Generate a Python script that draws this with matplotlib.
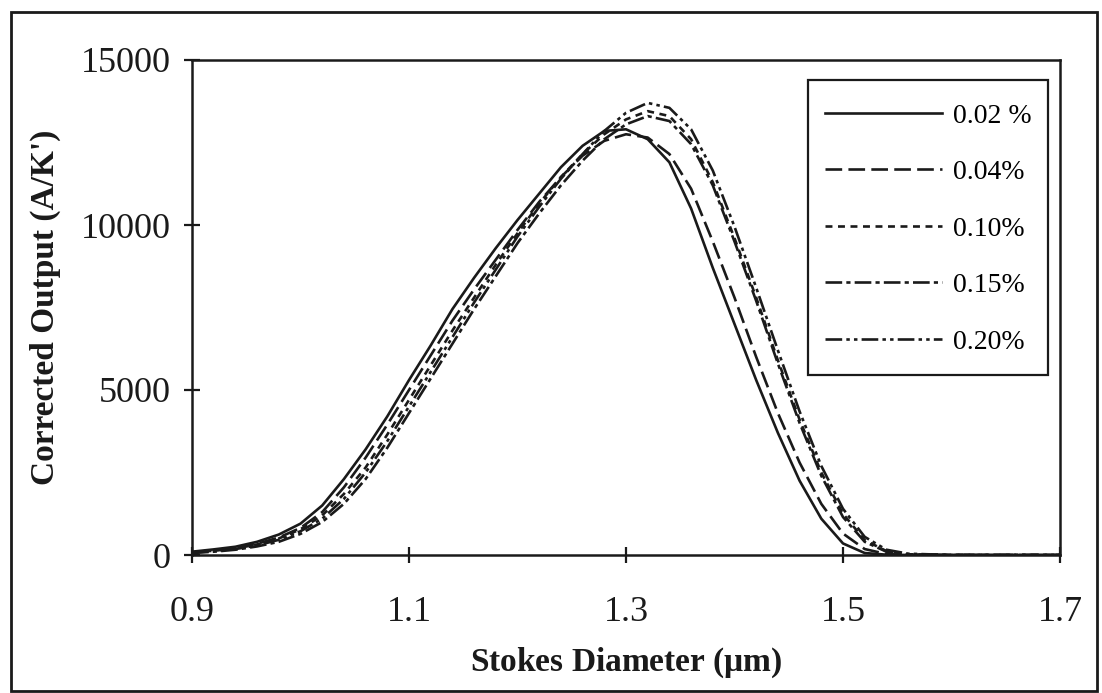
import matplotlib
matplotlib.use('Agg')
import matplotlib.pyplot as plt
from matplotlib.patches import Rectangle

plt.rcParams['font.family'] = ['Liberation Serif', 'DejaVu Serif']
plt.rcParams['lines.scale_dashes'] = False
plt.rcParams['mathtext.fontset'] = 'custom'

# Stokes diameter (um) sample points
diam = [0.90, 0.92, 0.94, 0.96, 0.98, 1.00, 1.02, 1.04, 1.06, 1.08, 1.10, 1.12,
        1.14, 1.16, 1.18, 1.20, 1.22, 1.24, 1.26, 1.28, 1.30, 1.32, 1.34, 1.36,
        1.38, 1.40, 1.42, 1.44, 1.46, 1.48, 1.50, 1.52, 1.54, 1.56, 1.60, 1.65,
        1.70]

# corrected output (A/K') for each concentration
out_002 = [100, 170, 250, 400, 620, 950, 1500, 2300, 3200, 4200, 5300, 6350,
           7450, 8400, 9300, 10150, 10950, 11750, 12400, 12850, 12900, 12600, 11900, 10500,
           8700, 7000, 5300, 3700, 2250, 1100, 350, 60, 10, 0, 0, 0,
           0]
out_004 = [80, 140, 210, 340, 530, 820, 1300, 2050, 2950, 3950, 5000, 6050,
           7100, 8050, 8950, 9850, 10700, 11450, 12100, 12550, 12750, 12650, 12150, 11100,
           9500, 7800, 6000, 4300, 2800, 1550, 650, 180, 30, 0, 0, 0,
           0]
out_010 = [80, 130, 200, 320, 500, 780, 1200, 1850, 2650, 3650, 4700, 5750,
           6800, 7800, 8800, 9750, 10650, 11450, 12150, 12750, 13200, 13450, 13300, 12600,
           11300, 9600, 7800, 5900, 4100, 2500, 1250, 450, 120, 20, 0, 0,
           0]
out_015 = [60, 100, 160, 260, 400, 640, 1000, 1550, 2300, 3250, 4300, 5350,
           6400, 7450, 8450, 9450, 10350, 11200, 11950, 12600, 13050, 13300, 13150, 12450,
           11200, 9500, 7700, 5800, 4000, 2400, 1150, 400, 100, 10, 0, 0,
           0]
out_020 = [70, 120, 180, 290, 460, 720, 1100, 1700, 2500, 3450, 4500, 5550,
           6600, 7650, 8650, 9650, 10550, 11400, 12150, 12850, 13400, 13700, 13550, 12900,
           11650, 9950, 8100, 6200, 4350, 2700, 1400, 550, 160, 40, 0, 0,
           0]

labels = ['0.02 %', '0.04%', '0.10%', '0.15%', '0.20%']
series = [out_002, out_004, out_010, out_015, out_020]
styles = ['-', (0, (12, 4.5)), (0, (5, 4)), (0, (12, 3, 3, 3)),
          (0, (12, 3, 2.5, 3, 2.5, 3))]

ink = '#1a1a1a'

fig = plt.figure(figsize=(11.02, 6.93), dpi=100)
ax = fig.add_axes([192 / 1102, 1 - 555 / 693, 868 / 1102, 495 / 693])

for ys, lab, ls in zip(series, labels, styles):
    ax.plot(diam, ys, color=ink, lw=1.9, ls=ls, label=lab)

ax.set_xlim(0.9, 1.7)
ax.set_ylim(0, 15000)
ax.set_xticks([0.9, 1.1, 1.3, 1.5, 1.7])
ax.set_yticks([0, 5000, 10000, 15000])
ax.tick_params(axis='x', direction='inout', length=11, width=1.6, pad=24,
               labelsize=26, colors=ink)
ax.tick_params(axis='y', direction='inout', length=11, width=1.6, pad=10,
               labelsize=26, colors=ink)
for s in ax.spines.values():
    s.set_linewidth(1.8)
    s.set_color(ink)

ax.set_xlabel(r'Stokes Diameter ($\mathregular{\mu}$m)', fontsize=24,
              fontweight='bold', color=ink, labelpad=12)
ax.set_ylabel("Corrected Output (A/K')", fontsize=24, fontweight='bold',
              color=ink, labelpad=14)

# legend entries without frame, box drawn separately
leg = ax.legend(loc='upper left', bbox_to_anchor=(0.7293, 0.913), fontsize=20,
                handlelength=4.2, handletextpad=0.4, labelspacing=1.12,
                borderpad=0, frameon=False, borderaxespad=0)
ax.add_patch(Rectangle((0.7097, 0.3636), 0.2765, 0.596, transform=ax.transAxes,
                       fill=False, edgecolor=ink, lw=1.6, zorder=5))

# outer frame around the whole figure
fig.patches.append(Rectangle((11 / 1102, 2 / 693), 1086 / 1102, 679 / 693,
                             transform=fig.transFigure, fill=False,
                             edgecolor=ink, lw=2))

fig.savefig('out.png', dpi=100)
